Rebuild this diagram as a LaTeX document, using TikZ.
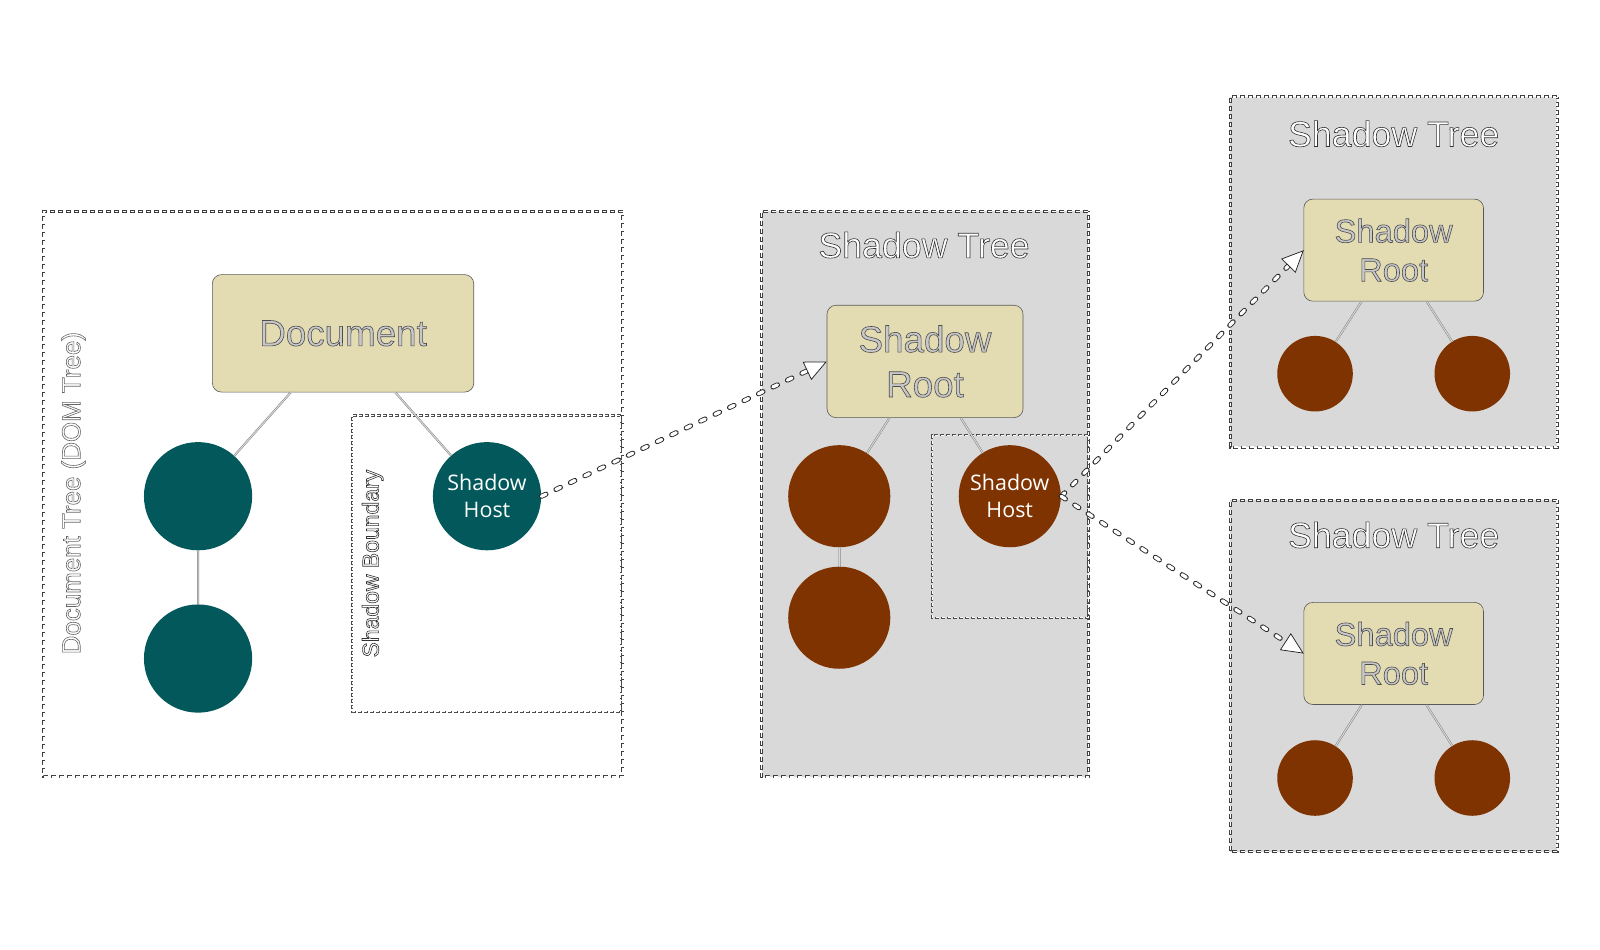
\documentclass[tikz,border=0pt]{standalone}
\usepackage{fontspec}
\setmainfont{Liberation Sans}
\newfontfamily\osans{Open Sans}
\usetikzlibrary{arrows.meta}
\definecolor{cream}{HTML}{E3DCB2}
\definecolor{teal2}{HTML}{02585A}
\definecolor{brown2}{HTML}{7F3300}
\definecolor{panel}{HTML}{D9D9D9}
\definecolor{glyph}{HTML}{C8C8C8}
\newcommand\olon[1]{\special{pdf:code 2 Tr 0.6 w #1 RG}}
\newcommand\oloff{\special{pdf:code 0 Tr 0.4 w}}
\begin{document}
\begin{tikzpicture}[x=1pt,y=-1pt,scale=1.021,transform shape,
  dbox/.style={draw=black!75, line width=3pt, dash pattern=on 5pt off 3pt, inner sep=0pt, outer sep=0pt,
    postaction={draw=white, line width=1.5pt, dash pattern=on 3.4pt off 4.6pt, dash phase=-0.8pt}},
  pbox/.style={draw=black!75, line width=3pt, dash pattern=on 5pt off 3pt, inner sep=0pt, outer sep=0pt, fill=panel,
    postaction={draw=white, line width=1.5pt, dash pattern=on 3.4pt off 4.6pt, dash phase=-0.8pt}},
  bbox/.style={draw=black!70, line width=2.2pt, dash pattern=on 4pt off 2pt, inner sep=0pt, outer sep=0pt,
    postaction={draw=white, line width=0.9pt, dash pattern=on 2.8pt off 3.2pt, dash phase=-0.6pt}},
  rootbox/.style={draw=black!65, line width=0.6pt, fill=cream, rounded corners=9pt, inner sep=0pt, align=center},
  tnode/.style={circle, fill=teal2, minimum size=106pt, inner sep=0pt},
  bnode/.style={circle, fill=brown2, minimum size=100pt, inner sep=0pt},
  snode/.style={circle, fill=brown2, minimum size=74pt, inner sep=0pt},
  hosttext/.style={text=white, font=\osans\fontsize{21}{26}\selectfont, align=center},
  link/.style={draw=black!50, line width=0.5pt, double=white!85!black, double distance=1pt},
  refline/.style={draw=black!85, line width=5pt, line cap=round, dash pattern=on 5pt off 11pt, shorten >=22pt,
    postaction={draw=white, line width=3.3pt, line cap=round, dash pattern=on 5pt off 11pt, shorten >=22pt}},
  reftip/.style={draw=black!85, line width=0.75pt, dash pattern=on 0pt off 3000pt, line cap=butt, -{Triangle[fill=white, length=22pt, width=20pt]}},
  titletext/.style={text=white, font=\fontsize{35}{40}\selectfont},
]
\fill[white] (0,0) rectangle (1567.1,930.46);
\useasboundingbox (0,0) rectangle (1567.1,930.46);

% ---------- left: document tree ----------
\node[dbox, minimum width=567pt, minimum height=554pt] (dombox) at (326.5,484) {};
\node[rotate=90, text=white, font=\fontsize{25.4}{30}\selectfont] (domlabel) at (72,483) {\olon{0.4 0.4 0.4}Document Tree (DOM Tree)\oloff};
\node[bbox, minimum width=263pt, minimum height=290pt] (boundary) at (476.5,552) {};
\node[rotate=90, text=white, font=\fontsize{22.5}{27}\selectfont] (boundlabel) at (365,552) {\olon{0.2 0.2 0.2}Shadow Boundary\oloff};

\node[rootbox, minimum width=256pt, minimum height=115pt, text=glyph, font=\fontsize{36}{42}\selectfont] (doc) at (336,326.5) {\olon{0.3 0.3 0.3}Document\oloff};
\node[tnode] (c1) at (194,486) {};
\node[tnode] (c2) at (194,645) {};
\node[tnode, hosttext] (host1) at (477,486) {Shadow\\Host};
\draw[link] (doc) -- (c1);
\draw[link] (doc) -- (host1);
\draw[link] (c1) -- (c2);

% ---------- middle: shadow tree ----------
\node[pbox, minimum width=320pt, minimum height=554pt] (mid) at (906,484) {};
\node[titletext] (midtitle) at (905,240) {\olon{0.2 0.2 0.2}Shadow Tree\oloff};
\node[bbox, minimum width=153pt, minimum height=179pt] (midbound) at (989.5,515.5) {};
\node[rootbox, minimum width=192pt, minimum height=110pt, text=glyph, font=\fontsize{36}{44}\selectfont] (root1) at (906,354) {\olon{0.3 0.3 0.3}Shadow\\Root\oloff};
\node[bnode] (m1) at (822,486) {};
\node[bnode] (m2) at (822,605) {};
\node[bnode, hosttext] (host2) at (989,486) {Shadow\\Host};
\draw[link] (root1) -- (m1);
\draw[link] (root1) -- (host2);
\draw[link] (m1) -- (m2);

% ---------- top right ----------
\node[pbox, minimum width=320pt, minimum height=343pt] (tr) at (1365,266.5) {};
\node[titletext] (trtitle) at (1365,131) {\olon{0.2 0.2 0.2}Shadow Tree\oloff};
\node[rootbox, minimum width=176pt, minimum height=100pt, text=glyph, font=\fontsize{32}{38}\selectfont] (root2) at (1365,245) {\olon{0.3 0.3 0.3}Shadow\\Root\oloff};
\node[snode] (t1) at (1288,366) {};
\node[snode] (t2) at (1442,366) {};
\draw[link] (root2) -- (t1);
\draw[link] (root2) -- (t2);

% ---------- bottom right ----------
\node[pbox, minimum width=320pt, minimum height=344pt] (br) at (1365,662) {};
\node[titletext] (brtitle) at (1365,524) {\olon{0.2 0.2 0.2}Shadow Tree\oloff};
\node[rootbox, minimum width=176pt, minimum height=100pt, text=glyph, font=\fontsize{32}{38}\selectfont] (root3) at (1365,640) {\olon{0.3 0.3 0.3}Shadow\\Root\oloff};
\node[snode] (b1) at (1288,762) {};
\node[snode] (b2) at (1442,762) {};
\draw[link] (root3) -- (b1);
\draw[link] (root3) -- (b2);

% ---------- references ----------
\draw[refline] (host1.east) -- (root1.west);
\draw[reftip] (host1.east) -- (root1.west);
\draw[refline] (host2.east) -- (root2.west);
\draw[reftip] (host2.east) -- (root2.west);
\draw[refline] (host2.east) -- (root3.west);
\draw[reftip] (host2.east) -- (root3.west);
\end{tikzpicture}
\end{document}
